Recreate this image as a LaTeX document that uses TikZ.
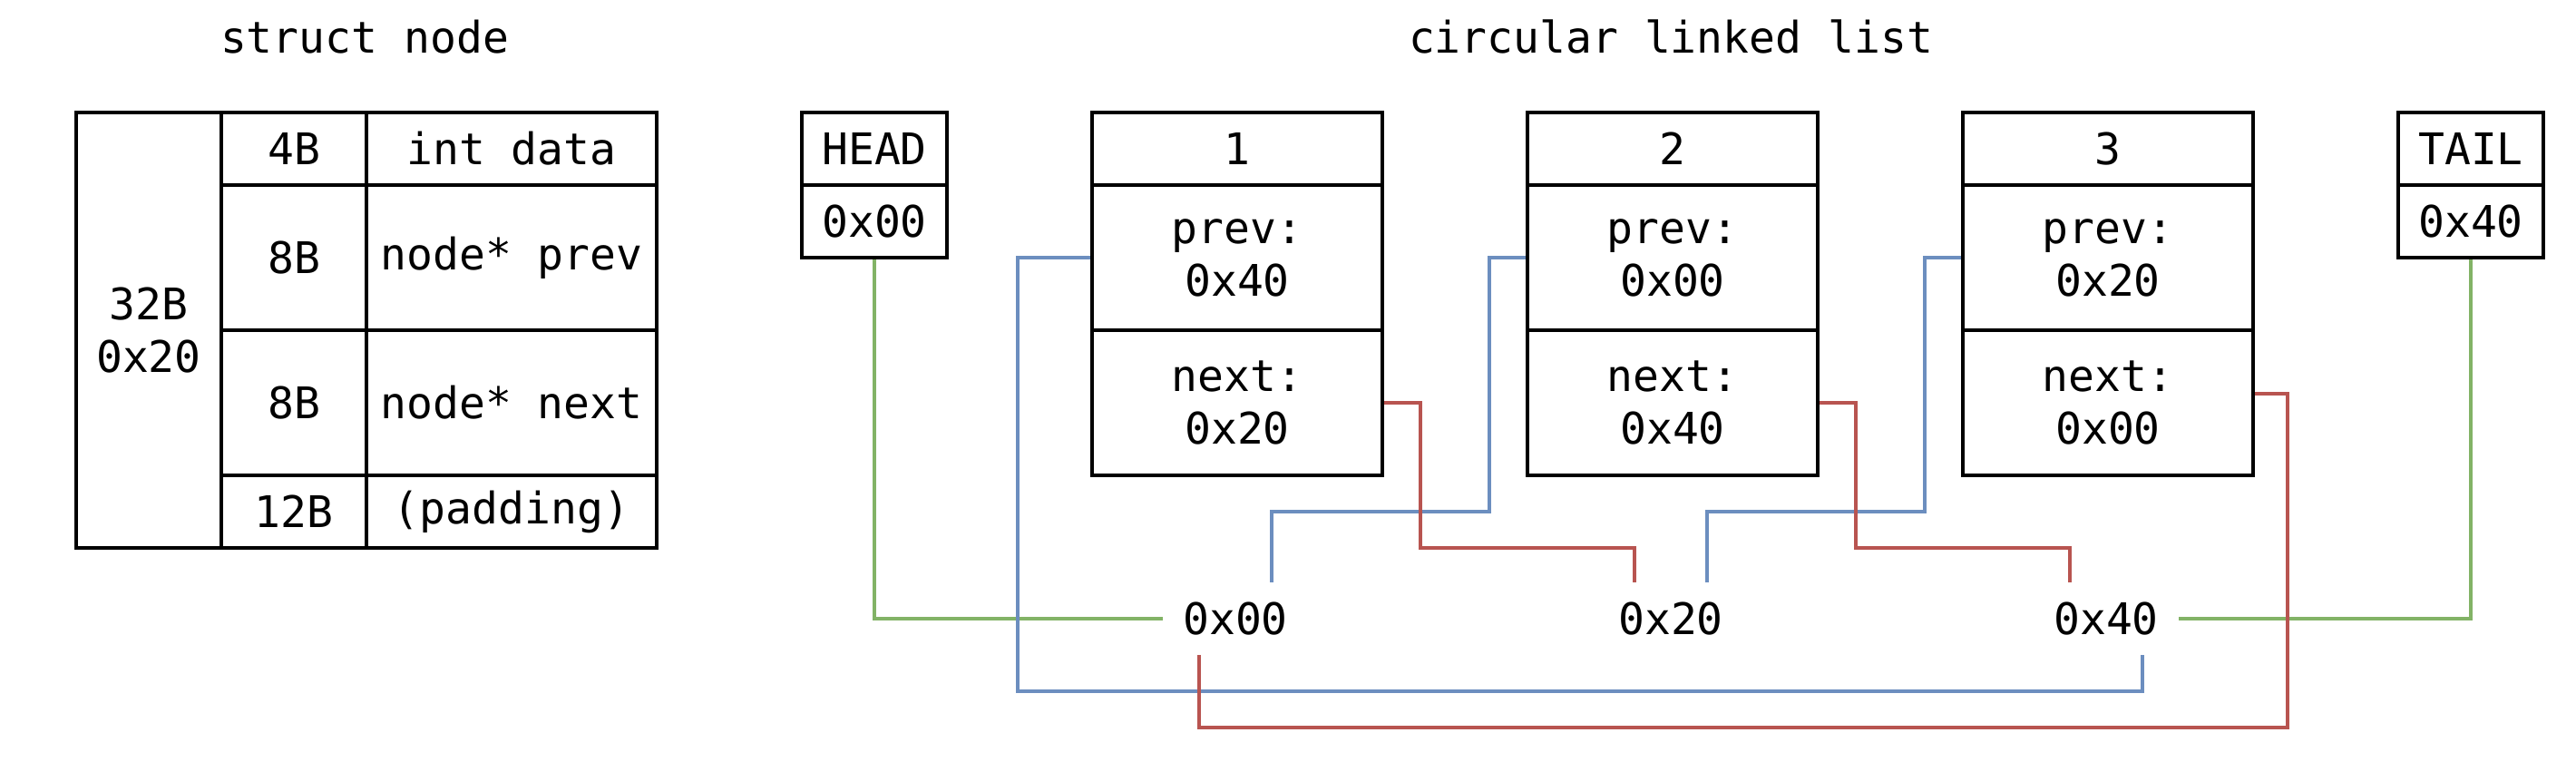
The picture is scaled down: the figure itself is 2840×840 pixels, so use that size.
\documentclass[tikz,border=0pt]{standalone}
\usepackage{fontspec}
\setmainfont{DejaVu Sans Mono}
\definecolor{lgreen}{RGB}{130,179,102}
\definecolor{lblue}{RGB}{108,142,191}
\definecolor{lred}{RGB}{184,84,80}
\begin{document}
\begin{tikzpicture}[x=1pt,y=-1pt,
  every node/.style={font=\fontsize{48}{58}\selectfont},
  cell/.style={draw, line width=4pt, inner sep=0pt, anchor=north west, align=center},
  addr/.style={inner sep=0pt, minimum width=160pt, minimum height=80pt},
  title/.style={anchor=base, inner sep=0pt},
  gline/.style={draw=lgreen, line width=3.6pt},
  bline/.style={draw=lblue, line width=3.6pt},
  rline/.style={draw=lred, line width=3.6pt}]
\useasboundingbox (0,0) rectangle (2840,840);
\fill[white] (0,0) rectangle (2840,840);
% titles
\node[title] (t1) at (402,59) {struct node};
\node[title] (t2) at (1842,59) {circular linked list};
% struct table
\node[cell, minimum width=160pt, minimum height=480pt] (sz) at (82,122) {32B\\0x20};
\node[cell, minimum width=160pt, minimum height=80pt] (c4) at (242,122) {4B};
\node[cell, minimum width=320pt, minimum height=80pt] (d4) at (402,122) {int data};
\node[cell, minimum width=160pt, minimum height=160pt] (c8a) at (242,202) {8B};
\node[cell, minimum width=320pt, minimum height=160pt] (dp) at (402,202) {node* prev};
\node[cell, minimum width=160pt, minimum height=160pt] (c8b) at (242,362) {8B};
\node[cell, minimum width=320pt, minimum height=160pt] (dn) at (402,362) {node* next};
\node[cell, minimum width=160pt, minimum height=80pt] (c12) at (242,522) {12B};
\node[cell, minimum width=320pt, minimum height=80pt] (dpad) at (402,522) {(padding)};
% head / tail
\node[cell, minimum width=160pt, minimum height=80pt] (hh) at (882,122) {HEAD};
\node[cell, minimum width=160pt, minimum height=80pt] (hv) at (882,202) {0x00};
\node[cell, minimum width=160pt, minimum height=80pt] (th) at (2642,122) {TAIL};
\node[cell, minimum width=160pt, minimum height=80pt] (tv) at (2642,202) {0x40};
% list nodes
\node[cell, minimum width=320pt, minimum height=80pt] (n1h) at (1202,122) {1};
\node[cell, minimum width=320pt, minimum height=160pt] (n1p) at (1202,202) {prev:\\0x40};
\node[cell, minimum width=320pt, minimum height=160pt] (n1n) at (1202,362) {next:\\0x20};
\node[cell, minimum width=320pt, minimum height=80pt] (n2h) at (1682,122) {2};
\node[cell, minimum width=320pt, minimum height=160pt] (n2p) at (1682,202) {prev:\\0x00};
\node[cell, minimum width=320pt, minimum height=160pt] (n2n) at (1682,362) {next:\\0x40};
\node[cell, minimum width=320pt, minimum height=80pt] (n3h) at (2162,122) {3};
\node[cell, minimum width=320pt, minimum height=160pt] (n3p) at (2162,202) {prev:\\0x20};
\node[cell, minimum width=320pt, minimum height=160pt] (n3n) at (2162,362) {next:\\0x00};
% address labels
\node[addr] (l0) at (1362,682) {0x00};
\node[addr] (l1) at (1842,682) {0x20};
\node[addr] (l2) at (2322,682) {0x40};
\coordinate (b0) at ([xshift=40pt]l0.north);
\coordinate (r0) at ([xshift=-40pt]l0.south);
\coordinate (r1) at ([xshift=-40pt]l1.north);
\coordinate (b1) at ([xshift=40pt]l1.north);
\coordinate (r2) at ([xshift=-40pt]l2.north);
\coordinate (b2) at ([xshift=40pt]l2.south);
% green
\draw[gline] (hv.south) |- (l0.west);
\draw[gline] (tv.south) |- (l2.east);
% blue
\draw[bline] (n1p.west) -- ++(-80,0) |- ([yshift=-40pt]b2) -- (b2);
\draw[bline] (n2p.west) -- ++(-40,0) -- ++(0,280) -| (b0);
\draw[bline] (n3p.west) -- ++(-40,0) -- ++(0,280) -| (b1);
% red
\draw[rline] (n1n.east) -- ++(40,0) -- ++(0,160) -| (r1);
\draw[rline] (n2n.east) -- ++(40,0) -- ++(0,160) -| (r2);
\draw[rline] (r0) -- ++(0,80) -- ++(1200,0) |- ([yshift=10pt]n3n.east);
\end{tikzpicture}
\end{document}
